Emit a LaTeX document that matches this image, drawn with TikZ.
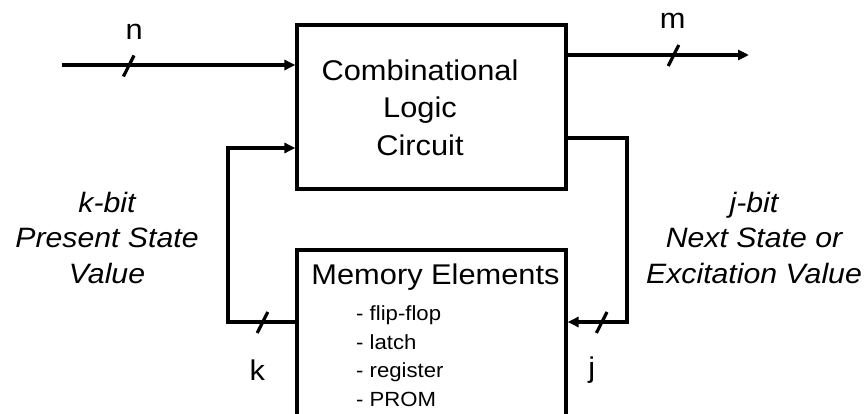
\documentclass[tikz,border=0pt]{standalone}
\usepackage{fontspec}
\setmainfont{Liberation Sans}[FakeStretch=1.08]
\usetikzlibrary{arrows.meta,calc}
\tikzset{
  wire/.style={line width=3.2pt, line cap=butt, line join=miter},
  arr/.style={wire, -{Triangle[length=11pt,width=10pt]}},
  blockbox/.style={draw, line width=3.2pt, inner sep=0pt, fill=none},
  big/.style={font=\fontsize{28.5}{37.5}\selectfont, inner sep=0pt},
  small/.style={font=\fontsize{20.5}{28.5}\selectfont, inner sep=0pt, anchor=base west},
  side/.style={font=\fontsize{28}{35}\selectfont\itshape, inner sep=0pt, anchor=base},
  busslash/.style={line width=3.2pt}
}
\begin{document}
\begin{tikzpicture}[x=1pt,y=-1pt]
\useasboundingbox (0,0) rectangle (868,414);
\clip (0,0) rectangle (868,414);
% blocks
\node[blockbox, minimum width=269pt, minimum height=164pt] (clc) at (431.5,107) {};
\node[big, align=center] (clctext) at (420,107.5) {Combinational\\Logic\\Circuit};
\node[blockbox, minimum width=269pt, minimum height=190pt] (mem) at (431.5,345) {};
\node[big, anchor=base] (memtitle) at (435.5,284.5) {Memory Elements};
\node[small] (i1) at (356,320.5) {- flip-flop};
\node[small] (i2) at (356,349) {- latch};
\node[small] (i3) at (356,377.5) {- register};
\node[small] (i4) at (356,406) {- PROM};
% coordinates
\coordinate (in) at (62,65);
\coordinate (out) at (749,55);
\coordinate (lc) at (228,322);
\coordinate (lt) at (228,148);
\coordinate (rt) at (627,138);
\coordinate (rc) at (627,322);
% connectors
\draw[arr] (in) -- (in -| clc.west);
\draw[arr] (clc.east |- out) -- (out);
\draw[arr] (mem.west |- lc) -- (lc) -- (lt) -- (lt -| clc.west);
\draw[arr] (clc.east |- rt) -- (rt) -- (rc) -- (rc -| mem.east);
% bus slashes
\coordinate (sn) at (128.7,66);
\coordinate (sm) at (673.5,55.5);
\coordinate (sk) at (262.5,322.5);
\coordinate (sj) at (601.7,322.5);
\foreach \c in {sn,sm,sk,sj}
  \draw[busslash] ($(\c)+(-5.3,10.5)$) -- ($(\c)+(5.3,-10.5)$);
% bus labels
\node[big] (ln) at (134.3,32) {n};
\node[big] (lm) at (672.7,21) {m};
\node[big] (lk) at (257.3,370) {k};
\node[big] (lj) at (591.7,370) {j};
% side labels
\node[side] (kb) at (107,212.5) {k-bit};
\node[side] (ps) at (107,248) {Present State};
\node[side] (pv) at (107,283.5) {Value};
\node[side] (jb) at (754,212.5) {j-bit};
\node[side] (ns) at (754,248) {Next State or};
\node[side] (ev) at (754,283.5) {Excitation Value};
\end{tikzpicture}
\end{document}
